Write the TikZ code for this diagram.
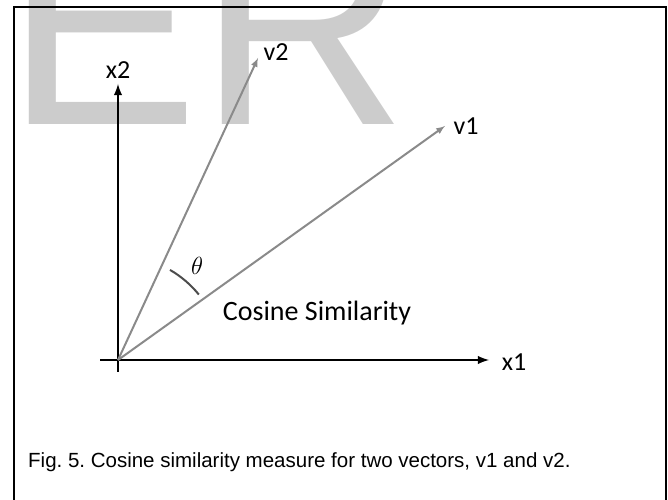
\documentclass[tikz,border=0pt]{standalone}
\usepackage{tikz}
\usepackage{amsmath}
\usepackage{xcolor}
\usepackage{fontspec}
\setmainfont{Liberation Sans}
\newfontfamily\calfont{Carlito}
\usetikzlibrary{arrows,positioning}
\definecolor{vecgray}{RGB}{138,138,138}
\definecolor{markgray}{RGB}{204,204,204}
\frenchspacing

\begin{document}
\begin{tikzpicture}[x=1bp,y=1bp,
  axis/.style={line width=2.8bp,-latex},
  vec/.style={draw=vecgray,line width=2bp,-latex},
  lbl/.style={font=\calfont\fontsize{26bp}{30bp}\selectfont,inner sep=0pt}]
\useasboundingbox (0,0) rectangle (668,500);
\node[anchor=base west,inner sep=0pt,text=markgray,font=\fontsize{290bp}{300bp}\selectfont] (mark) at (5,375) {ER};
\draw[line width=2bp] (14,0) -- (14,493) -- (666,493) -- (666,0);
% axes and vectors
\coordinate (O) at (118,140);
\coordinate (x2bot) at (118,128);
\coordinate (x2top) at (118,416);
\coordinate (x1left) at (100,140);
\coordinate (x1tip) at (489,140);
\coordinate (v1tip) at (445,374);
\coordinate (v2tip) at (258,442);
\draw[axis] (x2bot) -- (x2top);
\draw[axis] (x1left) -- (x1tip);
\draw[vec] (O) -- (v1tip);
\draw[vec] (O) -- (v2tip);
\draw[draw=black!70,line width=2bp] (O) ++(39:104) arc (39:60:104);
\node[lbl] (x2) at (118,430) {x2};
\node[lbl] (x1) at (514,138) {x1};
\node[lbl] (v1) at (466,374) {v1};
\node[lbl] (v2) at (276,448) {v2};
\node[inner sep=0pt,font=\fontsize{24bp}{28bp}\selectfont] (theta) at (197,234) {$\theta$};
\node[lbl,font=\calfont\fontsize{28bp}{32bp}\selectfont] (cos) at (317,187) {Cosine Similarity};
\node[anchor=west,inner sep=0pt,font=\fontsize{20.5bp}{24bp}\selectfont] (cap) at (28,38) {Fig. 5. Cosine similarity measure for two vectors, v1 and v2.};
\end{tikzpicture}
\end{document}
